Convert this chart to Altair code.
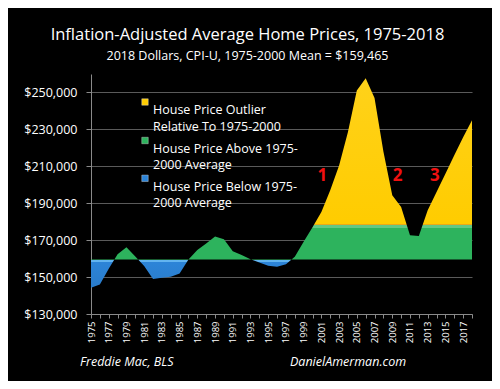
import altair as alt
import pandas as pd

# ---- data ----
years = list(range(1975, 2019))
prices = [144200, 146000, 154500, 162300, 166200, 161200, 156000, 148900, 149600, 150200,
          152000, 159500, 164600, 168200, 172000, 170500, 164000, 161900, 159600, 157900,
          156100, 155600, 156900, 161000, 169100, 177000, 185300, 197000, 210500, 228600,
          251100, 257700, 247000, 218000, 194300, 188000, 172700, 172300, 186200, 196100,
          206000, 216000, 225800, 234900]
MEAN = 159465
CAP = 178000
y_ticks = [130000, 150000, 170000, 190000, 210000, 230000, 250000]
annot_labels = ["1", "2", "3"]
annot_years = [2001.1, 2009.6, 2013.8]
annot_values = [205000, 205000, 205000]
legend_labels = ["House Price Outlier\nRelative To 1975-2000",
                 "House Price Above 1975-\n2000 Average",
                 "House Price Below 1975-\n2000 Average"]
legend_colors = ["#FFCC00", "#2DB35D", "#2C84D8"]

df = pd.DataFrame({"year": years, "price": prices})
ann = pd.DataFrame({"label": annot_labels, "year": annot_years, "price": annot_values})

FONT = "Open Sans"
YEL, GRN, BLU = legend_colors

# gradient stops derived from the data's vertical extent (area bbox spans min..max price)
pmax, pmin = max(prices), min(prices)
span = pmax - pmin
o_cap = (pmax - CAP) / span
o_mean = (pmax - MEAN) / span
e = 0.012
stops = [
    alt.GradientStop(offset=0, color="#FFD21A"),
    alt.GradientStop(offset=o_cap - e * 0.6, color=YEL),
    alt.GradientStop(offset=o_cap - e * 0.6, color="#E9A81A"),
    alt.GradientStop(offset=o_cap, color="#E9A81A"),
    alt.GradientStop(offset=o_cap, color="#62C784"),
    alt.GradientStop(offset=o_cap + e, color="#62C784"),
    alt.GradientStop(offset=o_cap + e, color=GRN),
    alt.GradientStop(offset=o_mean, color=GRN),
    alt.GradientStop(offset=o_mean, color="#62B4F0"),
    alt.GradientStop(offset=o_mean + e, color="#62B4F0"),
    alt.GradientStop(offset=o_mean + e, color=BLU),
    alt.GradientStop(offset=1, color="#2A7CCB"),
]
grad = alt.Gradient(gradient="linear", stops=stops, x1=0, x2=0, y1=0, y2=1)

x_scale = alt.Scale(domain=[1975, 2018], nice=False, zero=False)
y_scale = alt.Scale(domain=[130000, 260000], nice=False, zero=False)

x_enc = alt.X("year:Q", scale=x_scale,
              axis=alt.Axis(values=years, labelExpr="datum.value % 2 == 1 ? datum.value : ''",
                            labelAngle=-90, labelFontSize=9.5, labelColor="white",
                            labelFont=FONT, tickColor="#8a8a8a", tickSize=4,
                            domainColor="#8a8a8a", grid=False, title=None, labelPadding=3,
                            labelOverlap=False, labelBound=False, labelFlush=False))
y_enc = alt.Y("price:Q", scale=y_scale,
              axis=alt.Axis(values=y_ticks, format="$,.0f", labelFontSize=12.5,
                            labelColor="white", labelFont=FONT, tickColor="#8a8a8a",
                            tickSize=5, domainColor="#8a8a8a", gridColor="#5a5a5a",
                            labelPadding=9, title=None, labelOverlap=False,
                            labelBound=False, labelFlush=False))

area = alt.Chart(df).mark_area(color=grad, line=False).encode(
    x=x_enc, y=y_enc, y2=alt.datum(MEAN))

layers = [area]

sq_y = [28, 66.5, 104.3]
txt_y = [36, 74.8, 112.7]
for lab, col, sy, ty in zip(legend_labels, legend_colors, sq_y, txt_y):
    one = pd.DataFrame({"t": [lab]})
    layers.append(alt.Chart(one).mark_square(size=42, filled=True, color=col,
                                             stroke="#dddddd", strokeWidth=0.4, opacity=1).encode(
        x=alt.value(54), y=alt.value(sy)))
    layers.append(alt.Chart(one).mark_text(align="left", baseline="middle", lineBreak="\n",
                                           lineHeight=16.5, font=FONT, fontSize=12.5,
                                           color="white").encode(
        x=alt.value(62), y=alt.value(ty), text="t:N"))

layers.append(alt.Chart(ann).mark_text(font=FONT, fontSize=17, fontWeight="bold",
                                       color="#F01010", baseline="middle").encode(
    x=x_enc, y=y_enc, text="label:N"))

foot = pd.DataFrame({"t": ["Freddie Mac, BLS"]})
foot2 = pd.DataFrame({"t": ["DanielAmerman.com"]})
layers.append(alt.Chart(foot).mark_text(align="left", baseline="middle", font=FONT,
                                        fontSize=12.5, fontStyle="italic", color="white").encode(
    x=alt.value(-11), y=alt.value(288), text="t:N"))
layers.append(alt.Chart(foot2).mark_text(align="left", baseline="middle", font=FONT,
                                         fontSize=12.5, fontStyle="italic", color="white").encode(
    x=alt.value(199), y=alt.value(288), text="t:N"))

chart = alt.layer(*layers).properties(
    width=381, height=240,
    title=alt.TitleParams(text="Inflation-Adjusted Average Home Prices, 1975-2018",
                          subtitle="2018 Dollars, CPI-U, 1975-2000 Mean = $159,465",
                          font=FONT, fontSize=16.5, fontWeight="normal", color="white",
                          subtitleFont=FONT, subtitleFontSize=12.5, subtitleColor="white",
                          anchor="middle", frame="group", dx=-34, offset=12,
                          subtitlePadding=6),
    autosize=alt.AutoSizeParams(type="none"),
    padding={"left": 83, "top": 66, "right": 20, "bottom": 67},
    background="black",
).configure_view(stroke=None)

chart.save("out.html", embed_options={"renderer": "svg", "actions": False})
